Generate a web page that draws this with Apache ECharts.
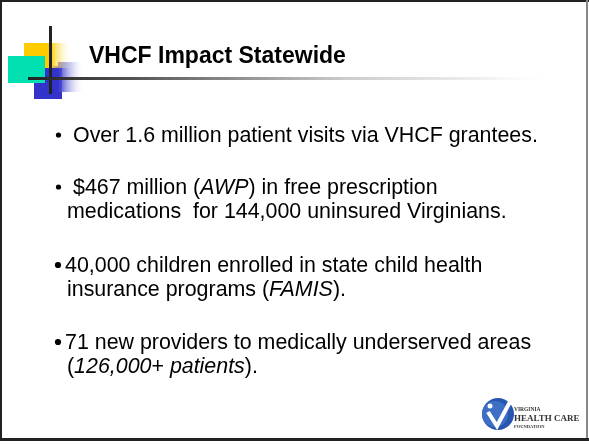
<!DOCTYPE html>
<html>
<head>
<meta charset="utf-8">
<script src="https://cdn.jsdelivr.net/npm/echarts@6/dist/echarts.min.js"></script>
<style>
  html, body { margin: 0; padding: 0; background: #fff; }
  #main { width: 589px; height: 445px; }
</style>
</head>
<body>
<div id="main"></div>
<script>
// slide content
const titleText = 'VHCF Impact Statewide';
const bulletLines = [
  ['Over 1.6 million patient visits via VHCF grantees.'],
  ['$467 million ({i|AWP}) in free prescription', 'medications  for 144,000 uninsured Virginians.'],
  ['40,000 children enrolled in state child health', 'insurance programs ({i|FAMIS}).'],
  ['71 new providers to medically underserved areas', '({i|126,000}+ {i|patients}).']
];
const bulletTops = [136, 188, 266, 343];
const bulletX = [58.5, 58.5, 58, 58];
const bulletR = [2.6, 2.6, 3.1, 3.1];
const firstLineX = [73, 73, 65, 65];
const logoLines = ['VIRGINIA', 'HEALTH CARE', 'FOUNDATION'];

const FONT = '"Liberation Sans", Arial, sans-serif';
const SERIF = '"Liberation Serif", "DejaVu Serif", serif';
const SIZE = 21.4;
const lineGap = 24;

const chart = echarts.init(document.getElementById('main'), null, { renderer: 'canvas' });

function txt(x, y, text, size, extra) {
  return {
    type: 'text',
    z: 10,
    style: Object.assign({
      x: x, y: y, text: text,
      fill: '#000',
      fontSize: size,
      fontFamily: FONT,
      verticalAlign: 'middle',
      textVerticalAlign: 'middle',
      rich: {
        i: { fontStyle: 'italic', fontSize: size, fontFamily: FONT, fill: '#000' }
      }
    }, extra || {})
  };
}

const graphics = [];

// frame
graphics.push({ type: 'rect', shape: { x: 0, y: 0, width: 589, height: 2 }, style: { fill: '#222' } });
graphics.push({ type: 'rect', shape: { x: 0, y: 0, width: 2, height: 441 }, style: { fill: '#222' } });
graphics.push({ type: 'rect', shape: { x: 586, y: 0, width: 2, height: 441 }, style: { fill: '#888' } });
graphics.push({ type: 'rect', shape: { x: 0, y: 438, width: 589, height: 3 }, style: { fill: '#222' } });

// decoration blocks
graphics.push({ type: 'rect', shape: { x: 34, y: 66, width: 28, height: 33 }, style: { fill: '#3333cc' } });
graphics.push({ type: 'rect', shape: { x: 58, y: 62, width: 26, height: 30 },
  style: { fill: new echarts.graphic.LinearGradient(0, 0, 1, 0, [
    { offset: 0, color: '#3333cc' }, { offset: 1, color: 'rgba(255,255,255,0)' }]) } });
graphics.push({ type: 'rect', shape: { x: 24, y: 43, width: 48, height: 25 },
  style: { fill: new echarts.graphic.LinearGradient(0, 0, 1, 0, [
    { offset: 0, color: '#ffcc00' }, { offset: 0.55, color: '#ffcc00' }, { offset: 1, color: 'rgba(255,255,255,0)' }]) } });
graphics.push({ type: 'rect', shape: { x: 8, y: 56, width: 37, height: 27 }, style: { fill: '#00e0b0' } });
graphics.push({ type: 'rect', shape: { x: 49, y: 26, width: 3, height: 68 }, style: { fill: '#222' }, z: 5 });
graphics.push({ type: 'rect', shape: { x: 28, y: 77, width: 530, height: 3 }, z: 5,
  style: { fill: new echarts.graphic.LinearGradient(0, 0, 1, 0, [
    { offset: 0, color: '#222' }, { offset: 0.2, color: '#555' },
    { offset: 0.6, color: '#cccccc' }, { offset: 0.85, color: '#eeeeee' }, { offset: 1, color: 'rgba(255,255,255,0)' }]) } });

// title
graphics.push(txt(89, 57, titleText, 23, { fontWeight: 'bold' }));

// bullets
bulletLines.forEach(function (lines, k) {
  const y0 = bulletTops[k];
  graphics.push({ type: 'circle', z: 10, shape: { cx: bulletX[k], cy: y0 - 1, r: bulletR[k] }, style: { fill: '#000' } });
  lines.forEach(function (line, j) {
    graphics.push(txt(j === 0 ? firstLineX[k] : 67, y0 + j * lineGap, line, SIZE));
  });
});

// logo
graphics.push({ type: 'circle', shape: { cx: 498, cy: 414, r: 16 }, style: { fill: '#2857b0' } });
graphics.push({ type: 'circle', shape: { cx: 495, cy: 414, r: 13 }, style: { fill: '#3d6fc4' } });
graphics.push({ type: 'polyline', shape: { points: [[488, 412], [497, 426], [511, 400]] },
  style: { stroke: '#fff', lineWidth: 4, fill: null } });
graphics.push({ type: 'circle', shape: { cx: 490, cy: 406, r: 2.5 }, style: { fill: '#fff' } });
graphics.push(txt(514, 410, logoLines[0], 5.5, { fontFamily: SERIF, fontWeight: 'bold', fill: '#333' }));
graphics.push(txt(514, 419, logoLines[1], 9, { fontFamily: SERIF, fontWeight: 'bold', fill: '#333' }));
graphics.push(txt(514, 427, logoLines[2], 4.5, { fontFamily: SERIF, fontWeight: 'bold', fill: '#333' }));

chart.setOption({
  backgroundColor: '#fff',
  animation: false,
  graphic: graphics
});
</script>
</body>
</html>
